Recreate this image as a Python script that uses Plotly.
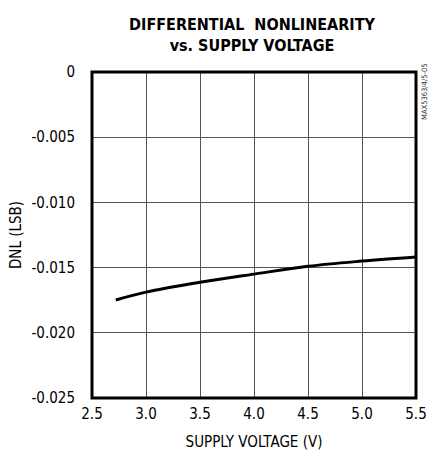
import plotly.graph_objects as go

voltage = [2.72, 3.0, 3.5, 4.0, 4.5, 5.0, 5.5]
dnl = [-0.01748, -0.01688, -0.01613, -0.01550, -0.01490, -0.01450, -0.01418]

x_ticks = [2.5, 3.0, 3.5, 4.0, 4.5, 5.0, 5.5]
x_tick_labels = ["2.5", "3.0", "3.5", "4.0", "4.5", "5.0", "5.5"]
y_ticks = [0, -0.005, -0.010, -0.015, -0.020, -0.025]
y_tick_labels = ["0", "-0.005", "-0.010", "-0.015", "-0.020", "-0.025"]

font_family = "DejaVu Sans Condensed"
W, H = 431, 455

fig = go.Figure()
fig.add_trace(go.Scatter(x=voltage, y=dnl, mode="lines",
                         line=dict(color="black", width=3, shape="spline"),
                         showlegend=False, hoverinfo="skip"))

fig.update_layout(
    width=W, height=H,
    margin=dict(l=92, r=15, t=72, b=57),
    paper_bgcolor="white", plot_bgcolor="white",
    font=dict(family=font_family, size=15, color="black"),
    title=dict(text="<b>DIFFERENTIAL  NONLINEARITY<br>vs. SUPPLY VOLTAGE</b>",
               x=252/W, xanchor="center", y=1 - 30/H, yanchor="top",
               font=dict(family=font_family, size=16, color="black")),
    xaxis=dict(range=[2.5, 5.5], tickvals=x_ticks, ticktext=x_tick_labels,
               showgrid=True, gridcolor="#555", gridwidth=1,
               showline=False, ticks="", zeroline=False, automargin=False,
               ticklabelstandoff=5,
               title=dict(text="SUPPLY VOLTAGE (V)", standoff=14,
                          font=dict(family=font_family, size=15))),
    yaxis=dict(range=[-0.025, 0], tickvals=y_ticks, ticktext=y_tick_labels,
               showgrid=True, gridcolor="#555", gridwidth=1,
               showline=False, ticks="", zeroline=False, automargin=False,
               ticklabelstandoff=16,
               title=dict(text="DNL (LSB)", standoff=6,
                          font=dict(family=font_family, size=15))),
    shapes=[dict(type="rect", xref="paper", yref="paper", x0=0, x1=1, y0=0, y1=1,
                 line=dict(color="black", width=3), layer="above")],
    annotations=[dict(text="MAX5363/4/5-05", xref="paper", yref="paper",
                      x=1.0, y=1.031, xanchor="center", yanchor="top",
                      xshift=9, textangle=-90, showarrow=False,
                      font=dict(family=font_family, size=7.5, color="#333"))],
)

fig.write_html("out.html", config={"displayModeBar": False},
               post_script="document.body.style.margin='0px';"
                           "document.documentElement.style.overflow='hidden';")
